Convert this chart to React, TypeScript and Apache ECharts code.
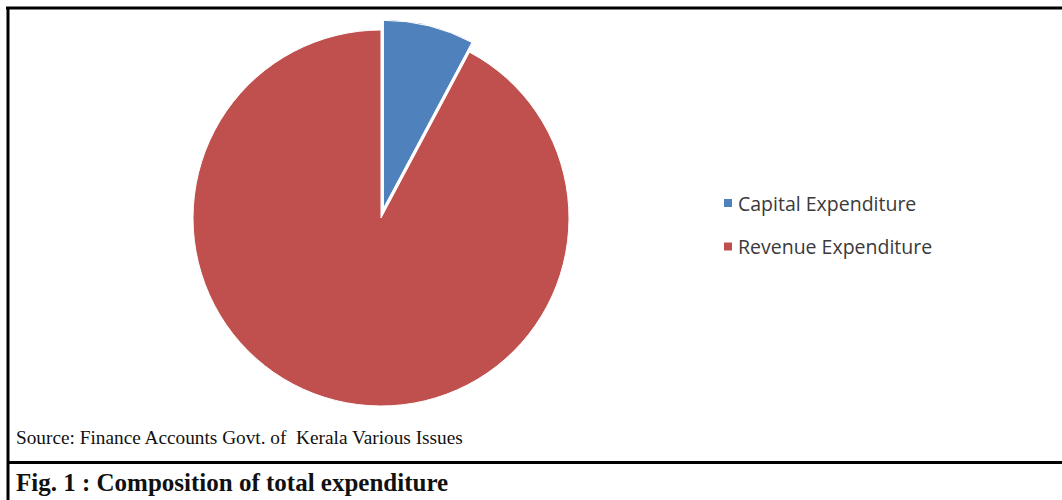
import React, { useEffect, useRef } from "react";
import * as echarts from "echarts";

const categories = ["Capital Expenditure", "Revenue Expenditure"];
const shares = [7.8, 92.2];
const colors = ["#4F81BD", "#C0504D"];
const sourceText = "Source: Finance Accounts Govt. of  Kerala Various Issues";
const captionText = "Fig. 1 : Composition of total expenditure";

export default function App() {
  const ref = useRef<HTMLDivElement>(null);
  useEffect(() => {
    if (!ref.current) return;
    const chart = echarts.init(ref.current, undefined, { renderer: "svg" });
    const data = categories.map((name, i) => ({
      name,
      value: shares[i],
      selected: i === 0,
      itemStyle: { color: colors[i] },
      select: { itemStyle: { color: colors[i], borderColor: "#ffffff", borderWidth: 1 } },
    }));
    chart.setOption({
      animation: false,
      backgroundColor: "#ffffff",
      legend: {
        orient: "vertical",
        left: 717,
        top: 188,
        icon: "rect",
        itemWidth: 10,
        itemHeight: 10,
        itemGap: 23.5,
        selectedMode: false,
        data: categories,
        textStyle: {
          fontFamily: "Open Sans",
          fontSize: 19.5,
          color: "#3a3a3a",
        },
      },
      series: [
        {
          type: "pie",
          center: [381, 218],
          radius: 188,
          startAngle: 90,
          clockwise: true,
          selectedMode: "single",
          selectedOffset: 10,
          label: { show: false },
          labelLine: { show: false },
          emphasis: { disabled: true },
          itemStyle: { borderColor: "#ffffff", borderWidth: 1 },
          data,
        },
      ],
      graphic: [
        {
          type: "line",
          shape: { x1: 6, y1: 8, x2: 1062, y2: 8 },
          style: { stroke: "#000000", lineWidth: 3 },
        },
        {
          type: "line",
          shape: { x1: 8, y1: 7, x2: 8, y2: 500 },
          style: { stroke: "#000000", lineWidth: 3 },
        },
        {
          type: "line",
          shape: { x1: 7, y1: 462.5, x2: 1062, y2: 462.5 },
          style: { stroke: "#000000", lineWidth: 3 },
        },
        {
          type: "text",
          x: 16,
          y: 437,
          style: {
            text: sourceText,
            font: "19.3px 'Liberation Serif'",
            fill: "#111111",
            verticalAlign: "middle",
          },
        },
        {
          type: "text",
          x: 16,
          y: 482,
          style: {
            text: captionText,
            font: "bold 25px 'Liberation Serif'",
            fill: "#111111",
            verticalAlign: "middle",
          },
        },
      ],
    });
    return () => chart.dispose();
  }, []);
  return (
    <div
      ref={ref}
      style={{ position: "fixed", left: 0, top: 0, width: 1062, height: 500 }}
    />
  );
}
